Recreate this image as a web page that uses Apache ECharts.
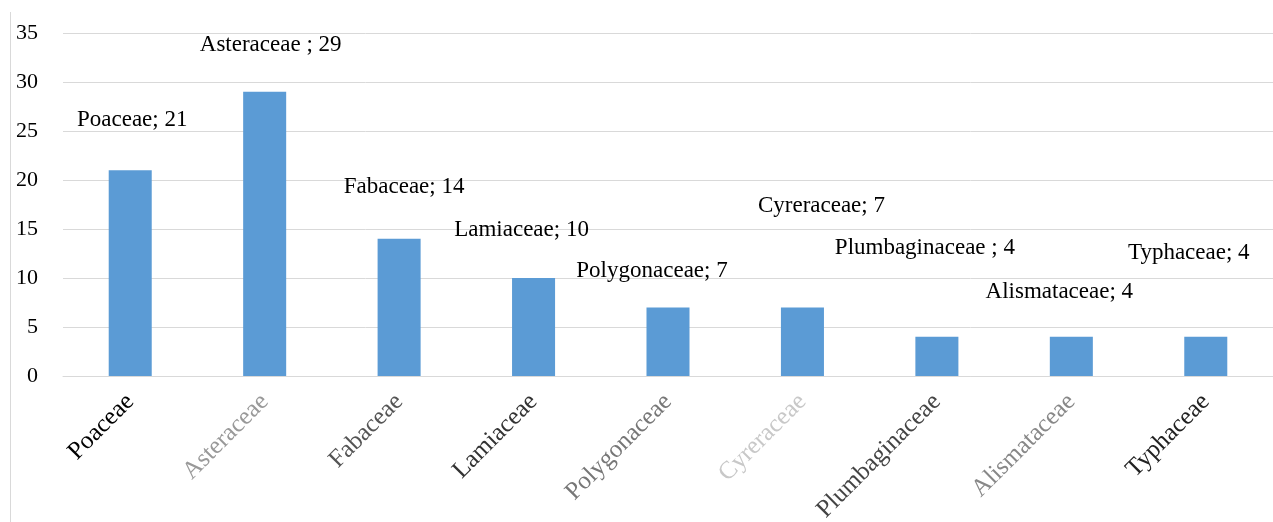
<!DOCTYPE html>
<html>
<head>
<meta charset="utf-8">
<script src="https://cdn.jsdelivr.net/npm/echarts@6/dist/echarts.min.js"></script>
<style>html,body{margin:0;padding:0;background:#fff}#c{width:1273px;height:522px}</style>
</head>
<body>
<div id="c"></div>
<script>
const categories = ['Poaceae','Asteraceae','Fabaceae','Lamiaceae','Polygonaceae','Cyreraceae','Plumbaginaceae','Alismataceae','Typhaceae'];
const values = [21, 29, 14, 10, 7, 7, 4, 4, 4];
const labelTexts = ['Poaceae; 21','Asteraceae ; 29','Fabaceae; 14','Lamiaceae; 10','Polygonaceae; 7','Cyreraceae; 7','Plumbaginaceae ; 4','Alismataceae; 4','Typhaceae; 4'];
const yTicks = [0, 5, 10, 15, 20, 25, 30, 35];

// layout-only: label offsets (px) from bar top, and tick label shades
const labelOffsets = [[2,-50],[6,-47],[5,-52],[-12,-48],[-16,-36],[19,-101],[-12,-89],[-12,-45],[-17,-84]];
const tickShades = ['#000','#999','#555','#333','#777','#c8c8c8','#444','#888','#222'];

const chart = echarts.init(document.getElementById('c'));
chart.setOption({
  animation: false,
  backgroundColor: '#fff',
  grid: { left: 63, right: 0, top: 33, bottom: 146, containLabel: false, outerBoundsMode: 'none' },
  graphic: [{ type: 'line', shape: { x1: 10.5, y1: 12, x2: 10.5, y2: 522 }, style: { stroke: '#d9d9d9', lineWidth: 1 } }],
  xAxis: {
    type: 'category',
    data: categories.map((c, i) => ({ value: c, textStyle: { color: tickShades[i] } })),
    axisLine: { show: true, lineStyle: { color: '#d9d9d9', width: 1 } },
    axisTick: { show: false },
    axisLabel: { rotate: 45, interval: 0, fontFamily: 'Liberation Serif', fontSize: 25, margin: 22 }
  },
  yAxis: {
    type: 'value', min: yTicks[0], max: yTicks[yTicks.length - 1], interval: 5,
    axisLine: { show: false }, axisTick: { show: false },
    splitLine: { lineStyle: { color: '#d9d9d9', width: 1 } },
    axisLabel: { fontFamily: 'Liberation Serif', fontSize: 22, color: '#000', margin: 25 }
  },
  series: [{
    type: 'bar',
    barWidth: '32%',
    itemStyle: { color: '#5B9BD5' },
    data: values.map((v, i) => ({
      value: v,
      label: { offset: labelOffsets[i], formatter: labelTexts[i] }
    })),
    label: {
      show: true, position: 'top', distance: 0, verticalAlign: 'middle',
      fontFamily: 'Liberation Serif', fontSize: 23, color: '#000'
    }
  }]
});
</script>
</body>
</html>
